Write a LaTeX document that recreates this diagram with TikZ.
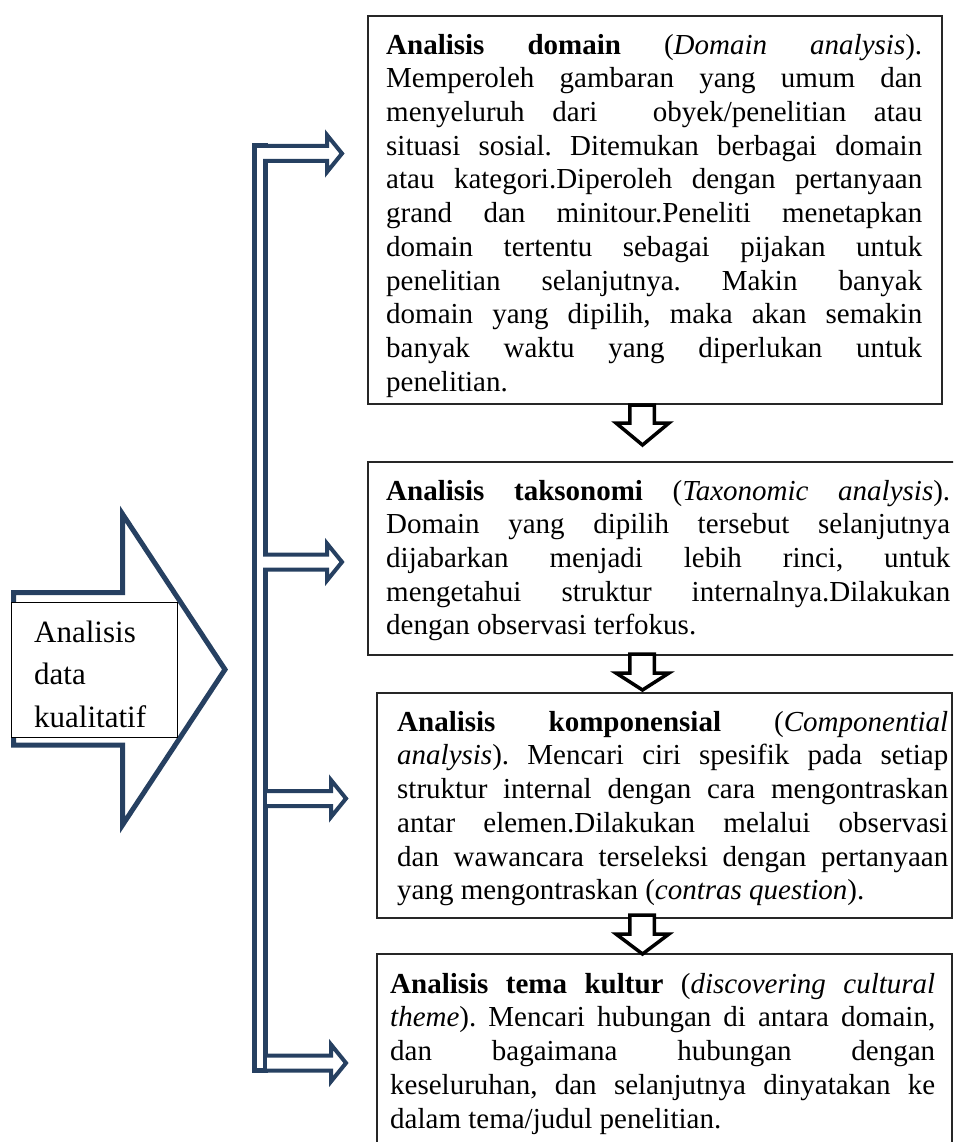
\documentclass[tikz,border=0pt]{standalone}
\usepackage{fontspec}
\setmainfont{Liberation Serif}
\frenchspacing
\definecolor{navy}{RGB}{38,64,97}
% one justified line of a given width
\newcommand\jl[2]{\makebox[#1][s]{#2}}
\tikzset{
  frame/.style={draw=black!85, line width=1.3pt, fill=white},
  body/.style={anchor=north west, inner sep=0pt, align=left,
    font=\fontsize{29}{33.7}\selectfont},
  bigarrow/.style={draw=navy, line width=5pt, fill=white, line join=miter},
  sidearrow/.style={draw=navy, line width=4pt, fill=white, line join=miter},
  downarrow/.style={draw=black, line width=3.5pt, fill=white, line join=miter},
}
\begin{document}
\begin{tikzpicture}[x=1pt,y=-1pt]
\useasboundingbox (0,0) rectangle (953,1142);
\clip (0,0) rectangle (953,1142);

% big block arrow on the left with its label box
\draw[bigarrow] (13.5,592.5) -- (122.5,592.5) -- (122.5,514) -- (225,669.5)
  -- (122.5,825) -- (122.5,745) -- (13.5,745) -- cycle;
\draw[draw=black, line width=1pt, fill=white] (11,602) rectangle (177,737);
\node[anchor=north west, inner sep=0pt, align=left,
  font=\fontsize{31}{42.5}\selectfont] (src) at (34,612.3)
  {\strut Analisis\\data\\kualitatif};

% vertical double bar
\draw[navy, line width=5pt] (254.5,145.5) rectangle (265.5,1070.5);

% branch arrows
\foreach \c/\s/\b/\t in {153.5/263/327/342, 562/263/327/342, 798.5/267/331/346, 1063/267/331/346}{
  \fill[white] (\s,\c-7.5) rectangle (\b,\c+7.5);
  \draw[sidearrow] (\s,\c-7.5) -- (\b,\c-7.5) -- (\b,\c-18.5) -- (\t,\c)
    -- (\b,\c+18.5) -- (\b,\c+7.5) -- (\s,\c+7.5);
}

% text frames
\draw[frame] (368,16) rectangle (942,404);
\draw[frame] (368,462) rectangle (965,655);
\draw[frame] (377,693) rectangle (952,918);
\draw[frame] (377,954) rectangle (952,1160);

% arrows between the frames
\foreach \top/\base/\tip in {405/423/445, 654/673/690, 915/934/954}{
  \draw[downarrow] (629.75,\top) -- (629.75,\base) -- (616,\base) -- (642.5,\tip)
    -- (669,\base) -- (654.25,\base) -- (654.25,\top) -- cycle;
}

\node[body] (t1) at (386,30.4) {%
\jl{536pt}{\strut\textbf{Analisis domain} (\textit{Domain analysis}).}\\
\jl{536pt}{Memperoleh gambaran yang umum dan}\\
\jl{536pt}{menyeluruh dari\ \ obyek/penelitian atau}\\
\jl{536pt}{situasi sosial. Ditemukan berbagai domain}\\
\jl{536pt}{atau kategori.Diperoleh dengan pertanyaan}\\
\jl{536pt}{grand dan minitour.Peneliti menetapkan}\\
\jl{536pt}{domain tertentu sebagai pijakan untuk}\\
\jl{536pt}{penelitian selanjutnya. Makin banyak}\\
\jl{536pt}{domain yang dipilih, maka akan semakin}\\
\jl{536pt}{banyak waktu yang diperlukan untuk}\\
penelitian.};

\node[body] (t2) at (386,476.4) {%
\jl{564pt}{\strut\textbf{Analisis taksonomi} (\textit{Taxonomic analysis}).}\\
\jl{564pt}{Domain yang dipilih tersebut selanjutnya}\\
\jl{564pt}{dijabarkan menjadi lebih rinci, untuk}\\
\jl{564pt}{mengetahui struktur internalnya.Dilakukan}\\
dengan observasi terfokus.};

\node[body] (t3) at (397,707.4) {%
\jl{551pt}{\strut\textbf{Analisis komponensial} (\textit{Componential}}\\
\jl{551pt}{\textit{analysis}). Mencari ciri spesifik pada setiap}\\
\jl{551pt}{struktur internal dengan cara mengontraskan}\\
\jl{551pt}{antar elemen.Dilakukan melalui observasi}\\
\jl{551pt}{dan wawancara terseleksi dengan pertanyaan}\\
yang mengontraskan (\textit{contras question}).};

\node[body] (t4) at (390,969.4) {%
\jl{545pt}{\strut\textbf{Analisis tema kultur} (\textit{discovering cultural}}\\
\jl{545pt}{\textit{theme}). Mencari hubungan di antara domain,}\\
\jl{545pt}{dan bagaimana hubungan dengan}\\
\jl{545pt}{keseluruhan, dan selanjutnya dinyatakan ke}\\
dalam tema/judul penelitian.};
\end{tikzpicture}
\end{document}
